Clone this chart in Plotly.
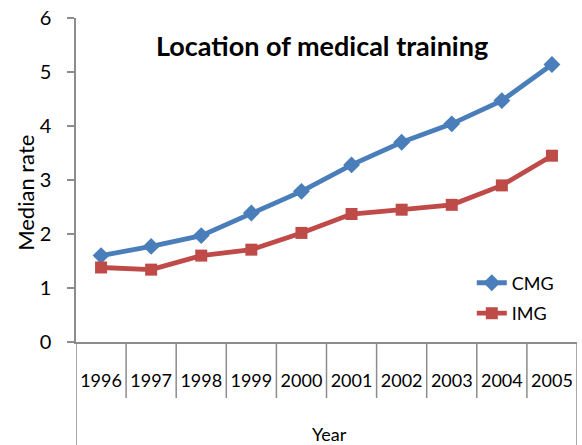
import plotly.graph_objects as go

years = ["1996", "1997", "1998", "1999", "2000", "2001", "2002", "2003", "2004", "2005"]
cmg = [1.60, 1.77, 1.97, 2.39, 2.79, 3.28, 3.70, 4.04, 4.47, 5.14]
img = [1.38, 1.34, 1.60, 1.71, 2.02, 2.37, 2.45, 2.54, 2.90, 3.45]

FONT = "Lato"
AXIS_GRAY = "#8c8c8c"
idx = list(range(len(years)))

fig = go.Figure()
fig.add_trace(go.Scatter(
    x=idx, y=cmg, name="CMG", mode="lines+markers", legendgroup="a",
    line=dict(color="#4A7EBB", width=4.8),
    marker=dict(symbol="diamond", size=13, color="#4A7EBB"),
))
fig.add_trace(go.Scatter(
    x=idx, y=img, name="IMG", mode="lines+markers", legendgroup="b",
    line=dict(color="#BE4B48", width=4.8),
    marker=dict(symbol="square", size=12, color="#BE4B48"),
))

# category boundary lines below the axis (Excel style)
shapes = []
n = len(years)
for b in range(n + 1):
    outer = b == 0 or b == n
    shapes.append(dict(
        type="line", xref="x", yref="paper",
        x0=b - 0.5, x1=b - 0.5, y0=0, y1=-0.32 if outer else -0.173,
        line=dict(color=AXIS_GRAY, width=1.5),
    ))

fig.update_layout(
    width=582, height=445,
    margin=dict(l=76, r=5, t=18, b=103, autoexpand=False),
    paper_bgcolor="white", plot_bgcolor="white",
    font=dict(family=FONT, color="black"),
    showlegend=True,
    legend=dict(
        x=0.79, y=0.239, xanchor="left", yanchor="top",
        font=dict(size=18, family=FONT), bgcolor="rgba(0,0,0,0)",
        tracegroupgap=4,
    ),
    shapes=shapes,
    annotations=[
        dict(text="<b>Location of medical training</b>", xref="paper", yref="paper",
             x=0.491, y=0.914, xanchor="center", yanchor="middle", showarrow=False,
             font=dict(size=27, family=FONT)),
        dict(text="Median rate", xref="paper", yref="paper", x=-0.1, y=0.46,
             xanchor="center", yanchor="middle", textangle=-90, showarrow=False,
             font=dict(size=22, family=FONT)),
        dict(text="Year", xref="paper", yref="paper", x=0.505, y=-0.284,
             xanchor="center", yanchor="middle", showarrow=False,
             font=dict(size=18, family=FONT)),
    ],
)
fig.update_xaxes(
    range=[-0.5, n - 0.5], tickmode="array", tickvals=idx, ticktext=years,
    showline=True, linecolor=AXIS_GRAY, linewidth=1.5, ticks="",
    showgrid=False, zeroline=False, tickfont=dict(size=18, family=FONT),
    ticklabelstandoff=22, automargin=False,
)
fig.update_yaxes(
    range=[0, 6], dtick=1, showline=True, linecolor=AXIS_GRAY, linewidth=1.5,
    ticks="outside", ticklen=7, tickcolor=AXIS_GRAY, tickwidth=1.5,
    showgrid=False, zeroline=False, tickfont=dict(size=20, family=FONT),
    ticklabelstandoff=12, automargin=False,
)

fig.write_html("out.html", config={"displayModeBar": False},
               post_script="document.body.style.margin='0';")
